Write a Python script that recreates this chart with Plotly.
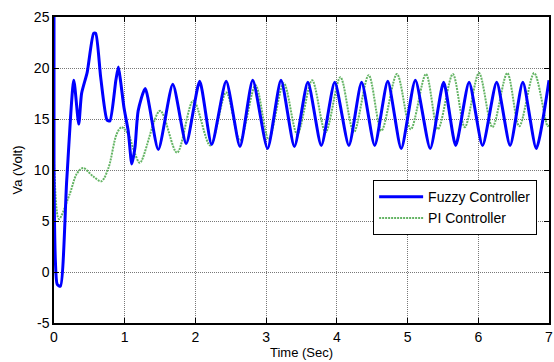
import plotly.graph_objects as go

# Fuzzy controller output (time s, voltage V)
fuzzy_t = [0.0, 0.0, 0.02, 0.045, 0.09, 0.18, 0.28, 0.35, 0.39, 0.47, 0.56, 0.59, 0.66, 0.75, 0.79,
           0.875, 0.91, 0.94, 0.99, 1.05, 1.10, 1.145, 1.19, 1.29,
           1.475, 1.68, 1.87, 2.06, 2.23, 2.435, 2.63, 2.81, 3.02, 3.21, 3.40, 3.59, 3.78,
           3.97, 4.17, 4.35, 4.535, 4.72, 4.91, 5.11, 5.32, 5.51, 5.68, 5.87, 6.06, 6.26,
           6.45, 6.63, 6.82, 7.0]
fuzzy_v = [25.0, 10.0, 1.0, -1.2, -1.4, 9.0, 18.8, 14.5, 17.5, 19.6, 23.4, 23.4, 19.1, 14.9, 14.8,
           18.8, 20.1, 18.8, 16.1, 13.8, 10.6, 12.2, 15.8, 18.0,
           12.0, 18.4, 12.6, 18.7, 12.5, 18.7, 12.3, 18.8, 12.1, 18.8, 12.3, 18.6, 12.4,
           18.6, 12.4, 18.6, 12.4, 18.7, 12.1, 18.8, 12.1, 18.6, 12.4, 18.6, 12.4, 18.6,
           12.4, 18.6, 12.1, 18.8]

# PI controller output
pi_t = [0.0, 0.005, 0.07, 0.22, 0.32, 0.41, 0.55, 0.67, 0.77, 0.885, 0.956, 1.05, 1.145, 1.215,
        1.5, 1.74, 1.97, 2.21, 2.435, 2.63, 2.85, 3.035, 3.25, 3.44, 3.65, 3.84, 4.05, 4.24,
        4.45, 4.63, 4.85, 5.045, 5.26, 5.43, 5.64, 5.81, 6.01, 6.20, 6.41, 6.58, 6.79, 6.98, 7.0]
pi_v = [13.8, 10.0, 5.2, 7.6, 9.6, 10.2, 9.4, 8.9, 10.2, 13.5, 14.2, 13.5, 11.6, 10.7,
        15.8, 11.7, 16.8, 12.4, 17.6, 12.9, 18.3, 13.0, 18.5, 13.5, 18.8, 13.7, 19.1, 13.7,
        19.3, 13.85, 19.4, 14.0, 19.4, 14.0, 19.4, 14.2, 19.5, 14.2, 19.5, 14.3, 19.5, 14.3, 14.5]

x_ticks = [0, 1, 2, 3, 4, 5, 6, 7]
y_ticks = [-5, 0, 5, 10, 15, 20, 25]
y_tick_labels = ["-5", "0", "5", "10", "15", "20", "25"]

FONT = "Liberation Sans, Arial"
pi_line = dict(color="rgb(100,180,100)", width=2, dash="2px,1px", shape="spline", smoothing=0.9)

fig = go.Figure()
# PI curve drawn under the fuzzy curve (no legend entry)
fig.add_trace(go.Scatter(x=pi_t, y=pi_v, name="PI Controller", mode="lines",
                         line=pi_line, showlegend=False))
fig.add_trace(go.Scatter(x=fuzzy_t, y=fuzzy_v, name="Fuzzy Controller", mode="lines",
                         line=dict(color="#0000FF", width=3, shape="spline", smoothing=0.6)))
# legend entry for PI
fig.add_trace(go.Scatter(x=[None], y=[None], name="PI Controller", mode="lines",
                         line=dict(color="rgb(100,180,100)", width=2, dash="2px,1px")))

axis_common = dict(showline=True, linecolor="black", linewidth=1.5, mirror="allticks",
                   ticks="inside", ticklen=5, tickcolor="black", automargin=False,
                   showgrid=True, gridcolor="rgb(120,120,120)", griddash="1px,1px", gridwidth=1,
                   zeroline=False, tickfont=dict(family=FONT, size=14, color="black"))

fig.update_xaxes(range=[0, 7], tickvals=x_ticks, **axis_common,
                 title=dict(text="Time (Sec)", standoff=3,
                            font=dict(family=FONT, size=13, color="black")))
fig.update_yaxes(range=[-5, 25], tickvals=y_ticks, ticktext=y_tick_labels, **axis_common,
                 title=dict(text="Va (Volt)", standoff=8,
                            font=dict(family=FONT, size=13, color="black")))

fig.update_layout(
    width=554, height=362,
    margin=dict(l=54, r=5, t=17, b=39),
    plot_bgcolor="white", paper_bgcolor="white",
    legend=dict(x=0.976, y=0.467, xanchor="right", yanchor="top",
                bgcolor="white", bordercolor="black", borderwidth=1,
                font=dict(family=FONT, size=14, color="black"),
                tracegroupgap=0, itemwidth=44),
)

fig.write_html("out.html", config={"displayModeBar": False},
               post_script="document.body.style.margin='0';document.body.style.padding='0';")
